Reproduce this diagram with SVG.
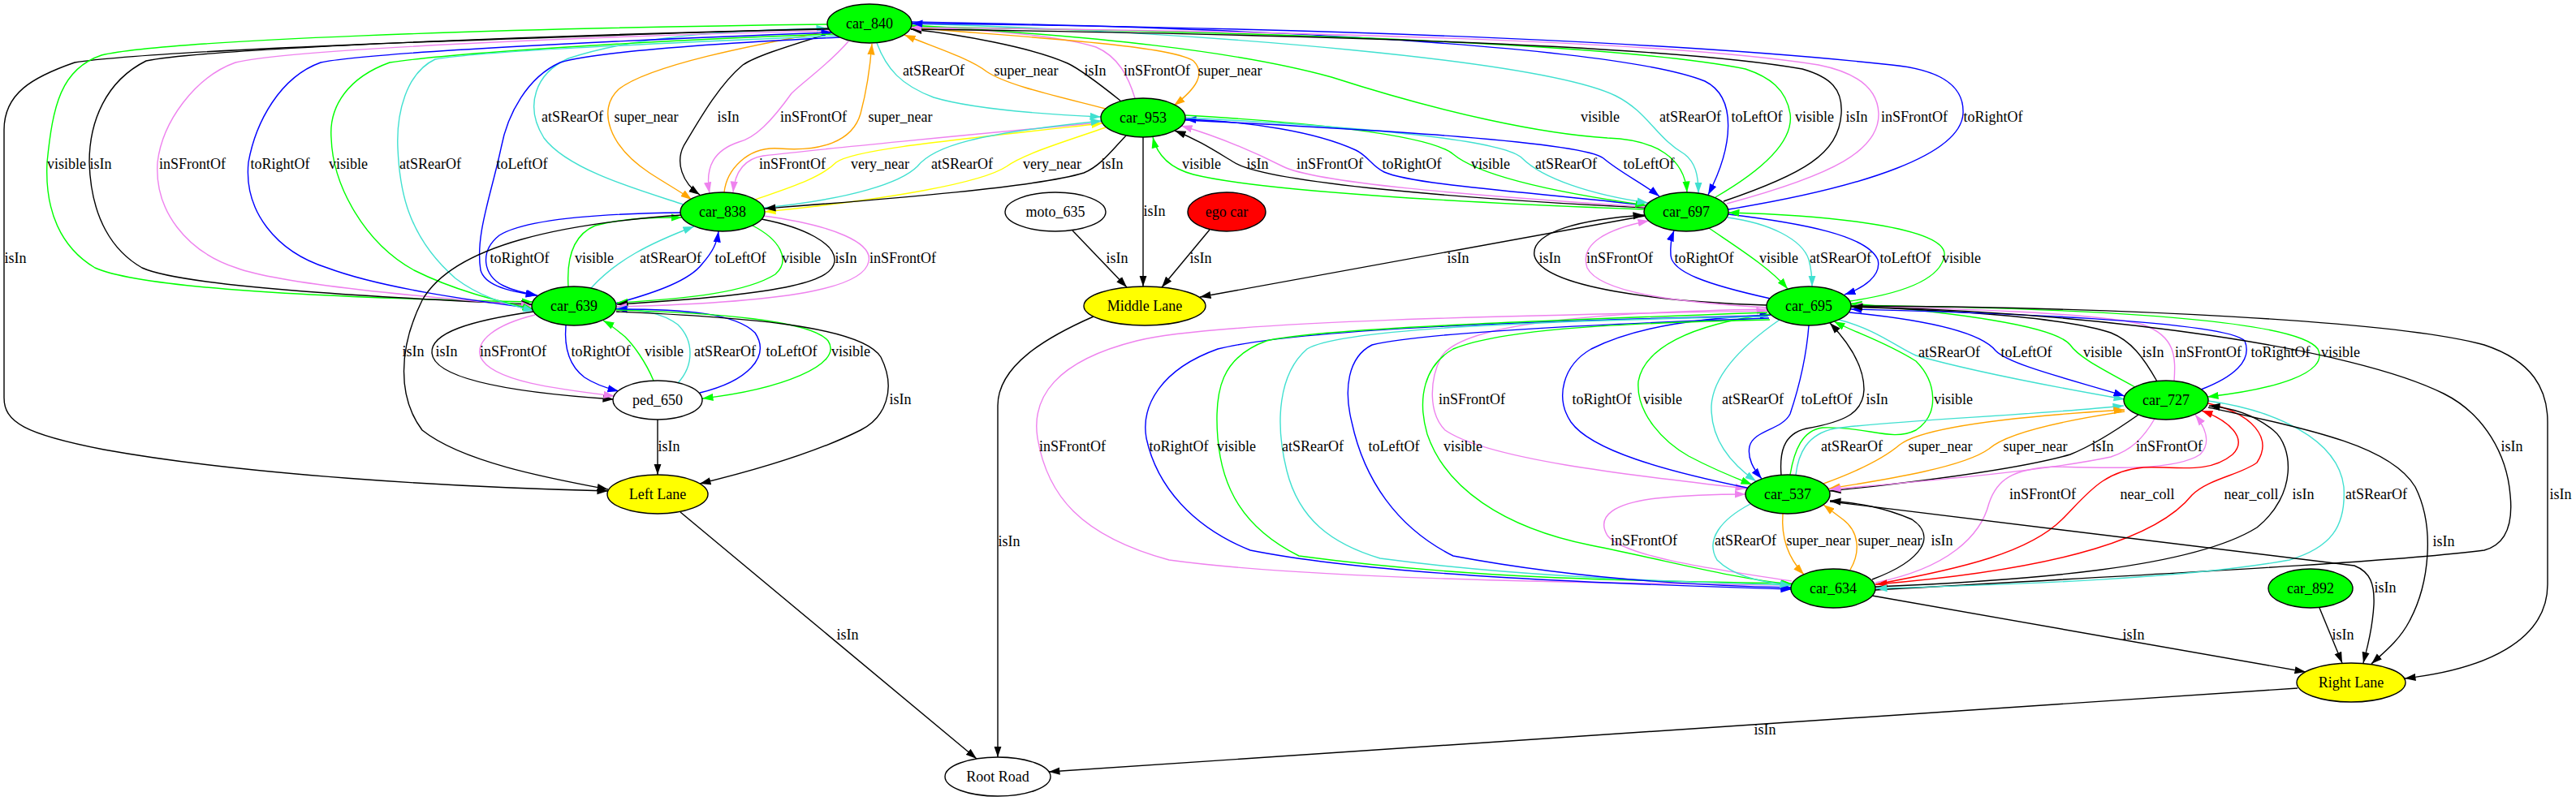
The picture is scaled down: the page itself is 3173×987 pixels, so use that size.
<svg xmlns="http://www.w3.org/2000/svg" width="3173" height="987" viewBox="0 0 3173 987">
<style>
.e{fill:none;stroke-width:1.4}
.k{stroke:#000;marker-end:url(#ak)}.g{stroke:#0f0;marker-end:url(#ag)}.v{stroke:#ee82ee;marker-end:url(#av)}.b{stroke:#00f;marker-end:url(#ab)}.t{stroke:#40e0d0;marker-end:url(#at)}.o{stroke:#ffa500;marker-end:url(#ao)}.y{stroke:#ff0;marker-end:url(#ay)}.r{stroke:#f00;marker-end:url(#ar)}
text{font-family:"Liberation Serif","Times New Roman",serif;font-size:18px;text-anchor:middle;fill:#000}
.n{stroke:#000;stroke-width:1.4}
.gr{fill:#0f0}.ye{fill:#ff0}.wh{fill:#fff}.rd{fill:#f00}
</style>
<defs>
<marker id="ak" viewBox="0 0 14 10" refX="13.5" refY="5" markerWidth="14" markerHeight="10" markerUnits="userSpaceOnUse" orient="auto"><path d="M0,0.4L13.5,5L0,9.6z" fill="#000"/></marker>
<marker id="ag" viewBox="0 0 14 10" refX="13.5" refY="5" markerWidth="14" markerHeight="10" markerUnits="userSpaceOnUse" orient="auto"><path d="M0,0.4L13.5,5L0,9.6z" fill="#0f0"/></marker>
<marker id="av" viewBox="0 0 14 10" refX="13.5" refY="5" markerWidth="14" markerHeight="10" markerUnits="userSpaceOnUse" orient="auto"><path d="M0,0.4L13.5,5L0,9.6z" fill="#ee82ee"/></marker>
<marker id="ab" viewBox="0 0 14 10" refX="13.5" refY="5" markerWidth="14" markerHeight="10" markerUnits="userSpaceOnUse" orient="auto"><path d="M0,0.4L13.5,5L0,9.6z" fill="#00f"/></marker>
<marker id="at" viewBox="0 0 14 10" refX="13.5" refY="5" markerWidth="14" markerHeight="10" markerUnits="userSpaceOnUse" orient="auto"><path d="M0,0.4L13.5,5L0,9.6z" fill="#40e0d0"/></marker>
<marker id="ao" viewBox="0 0 14 10" refX="13.5" refY="5" markerWidth="14" markerHeight="10" markerUnits="userSpaceOnUse" orient="auto"><path d="M0,0.4L13.5,5L0,9.6z" fill="#ffa500"/></marker>
<marker id="ay" viewBox="0 0 14 10" refX="13.5" refY="5" markerWidth="14" markerHeight="10" markerUnits="userSpaceOnUse" orient="auto"><path d="M0,0.4L13.5,5L0,9.6z" fill="#ff0"/></marker>
<marker id="ar" viewBox="0 0 14 10" refX="13.5" refY="5" markerWidth="14" markerHeight="10" markerUnits="userSpaceOnUse" orient="auto"><path d="M0,0.4L13.5,5L0,9.6z" fill="#f00"/></marker>
</defs>
<rect width="3173" height="987" fill="#fff"/>
<g id="edges">
<path class="e t" d="M1080,53 C1092,85 1110,105 1150,120 C1200,135 1290,141 1356,144"/>
<path class="e o" d="M1362,134 C1300,118 1240,105 1215,88 C1195,72 1150,58 1114,43"/>
<path class="e k" d="M1380,124 C1350,100 1330,85 1315,78 C1270,58 1180,42 1122,36"/>
<path class="e v" d="M1398,121 C1390,95 1378,70 1350,58 C1300,42 1200,36 1122,33"/>
<path class="e o" d="M1123,34 C1250,45 1440,55 1470,75 C1485,90 1475,108 1446,130"/>
<path class="e t" d="M842,252 C790,235 700,210 670,170 C645,130 660,90 700,72 C780,45 900,37 1019,35"/>
<path class="e o" d="M1023,38 C930,55 800,80 762,110 C735,135 750,180 800,213 C820,226 838,236 852,246"/>
<path class="e k" d="M1025,40 C960,60 930,70 915,80 C885,105 860,150 842,180 C832,200 840,225 862,240"/>
<path class="e v" d="M1045,51 C1020,80 990,100 975,115 C950,150 930,170 910,175 C880,185 868,205 874,238"/>
<path class="e o" d="M892,237 C895,210 920,180 960,183 C1010,187 1050,175 1060,140 C1068,110 1072,80 1074,54"/>
<path class="e v" d="M1357,151 C1200,165 1000,185 940,192 C915,196 905,215 903,237"/>
<path class="e y" d="M930,246 C970,232 1010,220 1030,200 C1050,185 1150,175 1358,152"/>
<path class="e t" d="M941,256 C1050,245 1110,225 1130,205 C1150,180 1200,165 1357,149"/>
<path class="e y" d="M1362,157 C1310,175 1260,190 1240,205 C1210,225 1100,245 942,261"/>
<path class="e k" d="M1387,167 C1370,185 1355,205 1335,213 C1280,230 1100,245 942,257"/>
<path class="e k" d="M1408,169 L1408,353"/>
<path class="e k" d="M1321,284 L1388,354"/>
<path class="e k" d="M1490,283 L1431,354"/>
<path class="e k" d="M2026,266 L1478,366"/>
<path class="e k" d="M1347,390 C1290,415 1229,450 1229,500 L1229,933"/>
<path class="e g" d="M2026,258 C1800,250 1550,235 1470,215 C1440,207 1425,190 1420,169"/>
<path class="e k" d="M2026,256 C1800,245 1560,225 1520,200 C1495,185 1475,172 1447,161"/>
<path class="e v" d="M2026,255 C1800,240 1620,225 1580,205 C1540,185 1500,168 1455,155"/>
<path class="e b" d="M2026,253 C1900,238 1740,228 1705,212 C1690,205 1685,192 1670,185 C1620,162 1540,150 1460,147"/>
<path class="e g" d="M1460,142 C1600,150 1760,165 1790,190 C1820,215 1900,235 2028,253"/>
<path class="e t" d="M1460,145 C1650,155 1850,170 1875,195 C1900,220 1960,240 2030,250"/>
<path class="e b" d="M1460,148 C1700,160 1950,175 1975,195 C1995,212 2025,227 2044,242"/>
<path class="e g" d="M1123,31 C1350,45 1520,62 1640,95 C1780,140 1900,165 1980,170 C2040,172 2075,195 2078,237"/>
<path class="e t" d="M1123,29 C1500,40 1900,75 1990,118 C2030,138 2040,170 2075,190 C2088,200 2092,215 2092,238"/>
<path class="e b" d="M1123,27 C1600,35 2000,60 2100,100 C2140,120 2135,180 2104,240"/>
<path class="e g" d="M2113,243 C2170,210 2210,175 2205,140 C2200,110 2180,95 2150,85 C2000,55 1600,40 1123,33"/>
<path class="e k" d="M2123,248 C2220,215 2265,190 2268,140 C2270,110 2255,95 2220,85 C2050,55 1600,42 1122,36"/>
<path class="e v" d="M2127,251 C2260,215 2315,185 2314,140 C2313,110 2290,90 2240,80 C2050,50 1600,38 1122,34"/>
<path class="e b" d="M2129,258 C2300,230 2415,190 2418,140 C2420,100 2380,85 2330,80 C2100,55 1700,35 1123,29"/>
<path class="e k" d="M1021,35 C700,45 200,60 92,77 C40,95 5,115 5,160 L5,490 C5,520 30,535 128,554 C300,585 550,600 749,605"/>
<path class="e g" d="M1019,30 C600,35 200,50 125,68 C75,85 65,130 58,200 C55,260 75,305 117,330 C180,358 450,368 656,372"/>
<path class="e k" d="M1021,36 C700,42 250,60 180,75 C130,100 110,150 110,200 C112,270 140,310 175,330 C230,355 500,368 655,375"/>
<path class="e v" d="M1023,38 C700,45 350,62 290,77 C240,95 200,150 194,200 C190,260 230,310 291,330 C350,352 550,368 655,377"/>
<path class="e b" d="M656,380 C580,370 470,355 403,330 C340,310 300,260 306,200 C315,150 345,95 395,77 C450,65 750,50 1025,40"/>
<path class="e g" d="M1027,42 C800,50 560,65 480,77 C430,95 405,130 408,170 C410,230 450,300 510,333 C560,358 610,370 657,381"/>
<path class="e t" d="M1030,44 C850,52 600,62 536,73 C500,90 488,140 490,183 C492,230 500,290 561,343 C590,365 620,374 658,383"/>
<path class="e b" d="M1034,46 C850,55 730,65 690,77 C650,95 625,140 617,183 C605,240 585,290 592,333 C597,350 620,358 661,364"/>
<path class="e b" d="M839,262 C750,263 650,268 615,290 C590,310 595,340 620,352 C630,357 645,361 662,364"/>
<path class="e g" d="M700,353 C698,320 705,290 733,278 C770,268 810,268 840,268"/>
<path class="e t" d="M728,355 C760,320 800,300 855,279"/>
<path class="e b" d="M758,374 C810,360 850,345 865,325 C878,310 883,300 885,285"/>
<path class="e g" d="M927,278 C960,295 975,320 955,338 C920,360 850,368 760,373"/>
<path class="e k" d="M938,270 C990,280 1030,300 1028,322 C1025,345 980,362 760,375"/>
<path class="e v" d="M940,266 C1030,278 1075,300 1070,322 C1065,350 1000,372 759,378"/>
<path class="e k" d="M657,384 C580,395 530,410 532,435 C535,470 650,485 756,492"/>
<path class="e v" d="M659,388 C610,400 585,420 592,440 C605,470 690,480 757,488"/>
<path class="e b" d="M697,401 C695,425 700,450 720,465 C735,475 750,479 762,482"/>
<path class="e g" d="M805,469 C795,445 780,425 770,415 C760,407 752,400 743,395"/>
<path class="e t" d="M835,472 C855,450 855,420 835,400 C815,385 790,382 759,380"/>
<path class="e b" d="M862,484 C920,470 950,440 930,410 C905,385 840,381 759,381"/>
<path class="e g" d="M759,382 C880,385 1000,395 1020,420 C1040,450 960,480 865,491"/>
<path class="e k" d="M759,384 C900,390 1060,400 1085,440 C1105,480 1090,515 1060,530 C1000,560 920,582 862,596"/>
<path class="e k" d="M839,265 C700,275 560,300 520,370 C490,430 490,490 520,530 C570,570 680,590 749,603"/>
<path class="e k" d="M810,517 L810,585"/>
<path class="e k" d="M2176,376 C2050,372 1900,355 1890,315 C1885,285 1950,270 2025,265"/>
<path class="e v" d="M2176,379 C2060,372 1970,360 1955,330 C1945,300 1980,282 2031,272"/>
<path class="e b" d="M2181,368 C2100,350 2060,335 2058,315 C2057,300 2059,292 2062,284"/>
<path class="e g" d="M2105,281 C2140,305 2180,330 2202,356"/>
<path class="e t" d="M2128,268 C2180,275 2220,295 2228,320 C2232,335 2232,345 2232,353"/>
<path class="e b" d="M2129,264 C2220,275 2300,290 2313,320 C2318,340 2295,355 2272,363"/>
<path class="e g" d="M2279,371 C2340,362 2390,345 2395,315 C2400,280 2250,265 2129,262"/>
<path class="e t" d="M2265,394 C2310,405 2340,430 2360,438 C2420,455 2520,475 2617,492"/>
<path class="e b" d="M2278,385 C2380,395 2440,410 2458,432 C2475,450 2560,470 2617,488"/>
<path class="e g" d="M2630,477 C2590,455 2560,440 2550,425 C2530,400 2400,385 2280,374"/>
<path class="e k" d="M2657,470 C2640,440 2625,420 2600,410 C2540,390 2400,382 2280,378"/>
<path class="e v" d="M2678,470 C2680,440 2680,415 2640,400 C2580,385 2400,380 2280,377"/>
<path class="e b" d="M2711,480 C2750,465 2775,445 2765,420 C2740,395 2450,385 2280,381"/>
<path class="e g" d="M2280,376 C2600,380 2830,395 2855,430 C2870,460 2800,480 2719,489"/>
<path class="e k" d="M2280,377 C2600,378 2950,395 3060,425 C3120,445 3138,480 3138,520 L3138,720 C3138,790 3060,825 2962,836"/>
<path class="e k" d="M2310,727 C2700,705 2950,692 3060,678 C3090,670 3095,640 3092,610 C3088,560 3060,510 3010,485 C2900,430 2600,385 2281,378"/>
<path class="e v" d="M2176,381 C1950,385 1800,400 1775,440 C1760,470 1760,510 1780,530 C1830,565 2000,585 2151,602"/>
<path class="e b" d="M2152,601 C2050,580 1960,555 1935,520 C1915,490 1925,450 1960,430 C2020,400 2100,392 2181,388"/>
<path class="e g" d="M2181,387 C2080,400 2025,430 2018,470 C2015,510 2050,545 2080,562 C2110,578 2135,588 2158,597"/>
<path class="e t" d="M2192,394 C2140,430 2110,465 2108,500 C2107,540 2130,570 2163,593"/>
<path class="e b" d="M2228,401 C2225,440 2215,480 2205,510 C2195,530 2160,530 2155,550 C2152,565 2160,578 2170,590"/>
<path class="e k" d="M2194,586 C2192,560 2195,535 2225,528 C2270,520 2295,510 2296,480 C2296,450 2275,420 2254,398"/>
<path class="e g" d="M2205,585 C2210,555 2220,530 2245,527 C2300,525 2330,545 2360,530 C2390,510 2385,470 2360,445 C2320,420 2285,410 2259,396"/>
<path class="e v" d="M2207,721 C1900,718 1600,712 1440,690 C1330,660 1290,610 1278,540 C1270,490 1300,445 1400,420 C1500,395 1900,388 2177,383"/>
<path class="e b" d="M2177,389 C1900,395 1600,405 1500,430 C1430,455 1405,500 1412,540 C1425,600 1470,650 1540,678 C1700,710 2000,720 2207,726"/>
<path class="e g" d="M2177,385 C1900,395 1620,405 1560,420 C1505,440 1495,480 1500,540 C1505,600 1530,650 1600,685 C1800,712 2000,716 2207,719"/>
<path class="e t" d="M2178,390 C1900,395 1650,405 1610,430 C1575,460 1570,520 1585,580 C1600,640 1640,670 1700,688 C1850,708 2000,715 2207,721"/>
<path class="e b" d="M2179,392 C1950,400 1750,410 1690,425 C1660,440 1655,480 1665,520 C1680,590 1720,650 1790,685 C1950,715 2100,722 2207,724"/>
<path class="e g" d="M2180,394 C2000,398 1850,405 1790,430 C1755,450 1745,490 1758,535 C1780,600 1850,650 1960,672 C2060,692 2130,712 2207,720"/>
<path class="e t" d="M2212,585 C2215,560 2225,535 2260,528 C2330,518 2500,512 2616,500"/>
<path class="e o" d="M2246,596 C2290,580 2320,565 2340,548 C2370,525 2500,512 2617,505"/>
<path class="e o" d="M2617,507 C2530,520 2470,535 2450,553 C2420,575 2330,590 2253,602"/>
<path class="e k" d="M2634,511 C2600,535 2575,550 2550,560 C2480,580 2350,595 2254,605"/>
<path class="e v" d="M2654,516 C2640,540 2625,555 2600,563 C2520,580 2380,592 2254,603"/>
<path class="e v" d="M2310,718 C2400,700 2440,660 2450,620 C2460,590 2480,578 2530,575 C2600,577 2680,580 2710,560 C2725,545 2715,525 2704,511"/>
<path class="e r" d="M2310,720 C2420,700 2500,680 2540,640 C2570,610 2590,580 2640,576 C2680,574 2720,585 2750,560 C2770,540 2745,518 2712,506"/>
<path class="e r" d="M2720,497 C2775,510 2800,540 2780,570 C2760,585 2720,590 2700,610 C2660,660 2550,700 2311,720"/>
<path class="e k" d="M2310,723 C2500,715 2700,700 2780,650 C2830,610 2825,550 2800,530 C2775,510 2750,503 2721,500"/>
<path class="e t" d="M2720,494 C2800,505 2880,540 2887,600 C2890,650 2870,675 2820,690 C2700,712 2500,720 2311,725"/>
<path class="e v" d="M2207,716 C2100,700 2000,685 1980,660 C1965,635 1990,620 2040,614 C2080,610 2110,609 2150,609"/>
<path class="e t" d="M2156,621 C2120,640 2100,665 2115,690 C2135,710 2170,718 2206,721"/>
<path class="e o" d="M2196,633 C2194,660 2200,685 2222,708"/>
<path class="e o" d="M2279,702 C2292,680 2290,655 2270,640 C2262,634 2254,628 2246,622"/>
<path class="e k" d="M2306,714 C2370,690 2385,660 2355,640 C2320,625 2290,620 2254,617"/>
<path class="e k" d="M2254,618 L2900,697 C2920,705 2925,720 2924,745 C2922,780 2915,800 2911,817"/>
<path class="e k" d="M2720,502 C2850,530 2945,550 2975,600 C3000,650 2992,720 2968,765 C2955,790 2935,805 2921,818"/>
<path class="e k" d="M2857,749 L2885,817"/>
<path class="e k" d="M2306,734 L2840,828"/>
<path class="e k" d="M2830,848 L1292,951"/>
<path class="e k" d="M838,631 L1203,935"/>
</g>
<g id="edge-labels">
<text x="1150" y="93">atSRearOf</text><text x="1264" y="93">super_near</text><text x="1349" y="93">isIn</text><text x="1425" y="93">inSFrontOf</text><text x="1515" y="93">super_near</text>
<text x="705" y="150">atSRearOf</text><text x="796" y="150">super_near</text><text x="897" y="150">isIn</text><text x="1002" y="150">inSFrontOf</text><text x="1109" y="150">super_near</text>
<text x="976" y="208">inSFrontOf</text><text x="1084" y="208">very_near</text><text x="1185" y="208">atSRearOf</text><text x="1296" y="208">very_near</text><text x="1370" y="208">isIn</text>
<text x="1422" y="266">isIn</text><text x="1376" y="324">isIn</text><text x="1479" y="324">isIn</text><text x="1796" y="324">isIn</text><text x="1243" y="673">isIn</text>
<text x="1480" y="208">visible</text><text x="1549" y="208">isIn</text><text x="1638" y="208">inSFrontOf</text><text x="1739" y="208">toRightOf</text><text x="1836" y="208">visible</text><text x="1929" y="208">atSRearOf</text><text x="2031" y="208">toLeftOf</text>
<text x="1971" y="150">visible</text><text x="2082" y="150">atSRearOf</text><text x="2164" y="150">toLeftOf</text><text x="2235" y="150">visible</text><text x="2287" y="150">isIn</text><text x="2358" y="150">inSFrontOf</text><text x="2455" y="150">toRightOf</text>
<text x="19" y="324">isIn</text><text x="82" y="208">visible</text><text x="124" y="208">isIn</text><text x="237" y="208">inSFrontOf</text><text x="345" y="208">toRightOf</text><text x="429" y="208">visible</text><text x="530" y="208">atSRearOf</text><text x="643" y="208">toLeftOf</text>
<text x="640" y="324">toRightOf</text><text x="732" y="324">visible</text><text x="826" y="324">atSRearOf</text><text x="912" y="324">toLeftOf</text><text x="987" y="324">visible</text><text x="1042" y="324">isIn</text><text x="1112" y="324">inSFrontOf</text>
<text x="509" y="439">isIn</text><text x="550" y="439">isIn</text><text x="632" y="439">inSFrontOf</text><text x="740" y="439">toRightOf</text><text x="818" y="439">visible</text><text x="893" y="439">atSRearOf</text><text x="975" y="439">toLeftOf</text><text x="1048" y="439">visible</text><text x="1109" y="498">isIn</text><text x="824" y="556">isIn</text>
<text x="1909" y="324">isIn</text><text x="1995" y="324">inSFrontOf</text><text x="2099" y="324">toRightOf</text><text x="2191" y="324">visible</text><text x="2267" y="324">atSRearOf</text><text x="2347" y="324">toLeftOf</text><text x="2416" y="324">visible</text>
<text x="2401" y="440">atSRearOf</text><text x="2496" y="440">toLeftOf</text><text x="2590" y="440">visible</text><text x="2652" y="440">isIn</text><text x="2720" y="440">inSFrontOf</text><text x="2809" y="440">toRightOf</text><text x="2883" y="440">visible</text>
<text x="3154" y="615">isIn</text><text x="3094" y="556">isIn</text>
<text x="1813" y="498">inSFrontOf</text><text x="1973" y="498">toRightOf</text><text x="2048" y="498">visible</text><text x="2159" y="498">atSRearOf</text><text x="2250" y="498">toLeftOf</text><text x="2312" y="498">isIn</text><text x="2406" y="498">visible</text>
<text x="1321" y="556">inSFrontOf</text><text x="1452" y="556">toRightOf</text><text x="1523" y="556">visible</text><text x="1617" y="556">atSRearOf</text><text x="1717" y="556">toLeftOf</text><text x="1802" y="556">visible</text>
<text x="2281" y="556">atSRearOf</text><text x="2390" y="556">super_near</text><text x="2507" y="556">super_near</text><text x="2590" y="556">isIn</text><text x="2672" y="556">inSFrontOf</text>
<text x="2516" y="615">inSFrontOf</text><text x="2645" y="615">near_coll</text><text x="2773" y="615">near_coll</text><text x="2837" y="615">isIn</text><text x="2927" y="615">atSRearOf</text>
<text x="2025" y="672">inSFrontOf</text><text x="2150" y="672">atSRearOf</text><text x="2240" y="672">super_near</text><text x="2328" y="672">super_near</text><text x="2392" y="672">isIn</text>
<text x="2938" y="730">isIn</text><text x="3010" y="673">isIn</text><text x="2886" y="788">isIn</text><text x="2628" y="788">isIn</text><text x="2174" y="905">isIn</text><text x="1044" y="788">isIn</text>
</g>
<g id="node-car_840"><ellipse class="n gr" cx="1071" cy="29" rx="52" ry="24"/><text x="1071" y="35">car_840</text></g>
<g id="node-car_953"><ellipse class="n gr" cx="1408" cy="145" rx="52" ry="24"/><text x="1408" y="151">car_953</text></g>
<g id="node-car_838"><ellipse class="n gr" cx="890" cy="261" rx="52" ry="24"/><text x="890" y="267">car_838</text></g>
<g id="node-moto_635"><ellipse class="n wh" cx="1300" cy="261" rx="62" ry="24"/><text x="1300" y="267">moto_635</text></g>
<g id="node-ego_car"><ellipse class="n rd" cx="1511" cy="261" rx="48" ry="24"/><text x="1511" y="267">ego car</text></g>
<g id="node-car_697"><ellipse class="n gr" cx="2077" cy="261" rx="52" ry="24"/><text x="2077" y="267">car_697</text></g>
<g id="node-car_639"><ellipse class="n gr" cx="707" cy="377" rx="52" ry="24"/><text x="707" y="383">car_639</text></g>
<g id="node-middle_lane"><ellipse class="n ye" cx="1410" cy="377" rx="75" ry="24"/><text x="1410" y="383">Middle Lane</text></g>
<g id="node-car_695"><ellipse class="n gr" cx="2228" cy="377" rx="52" ry="24"/><text x="2228" y="383">car_695</text></g>
<g id="node-ped_650"><ellipse class="n wh" cx="810" cy="493" rx="55" ry="24"/><text x="810" y="499">ped_650</text></g>
<g id="node-car_727"><ellipse class="n gr" cx="2668" cy="493" rx="52" ry="24"/><text x="2668" y="499">car_727</text></g>
<g id="node-left_lane"><ellipse class="n ye" cx="810" cy="609" rx="62" ry="24"/><text x="810" y="615">Left Lane</text></g>
<g id="node-car_537"><ellipse class="n gr" cx="2202" cy="609" rx="52" ry="24"/><text x="2202" y="615">car_537</text></g>
<g id="node-car_634"><ellipse class="n gr" cx="2258" cy="725" rx="52" ry="24"/><text x="2258" y="731">car_634</text></g>
<g id="node-car_892"><ellipse class="n gr" cx="2846" cy="725" rx="52" ry="24"/><text x="2846" y="731">car_892</text></g>
<g id="node-right_lane"><ellipse class="n ye" cx="2896" cy="841" rx="67" ry="24"/><text x="2896" y="847">Right Lane</text></g>
<g id="node-root_road"><ellipse class="n wh" cx="1229" cy="957" rx="65" ry="24"/><text x="1229" y="963">Root Road</text></g>
</svg>
